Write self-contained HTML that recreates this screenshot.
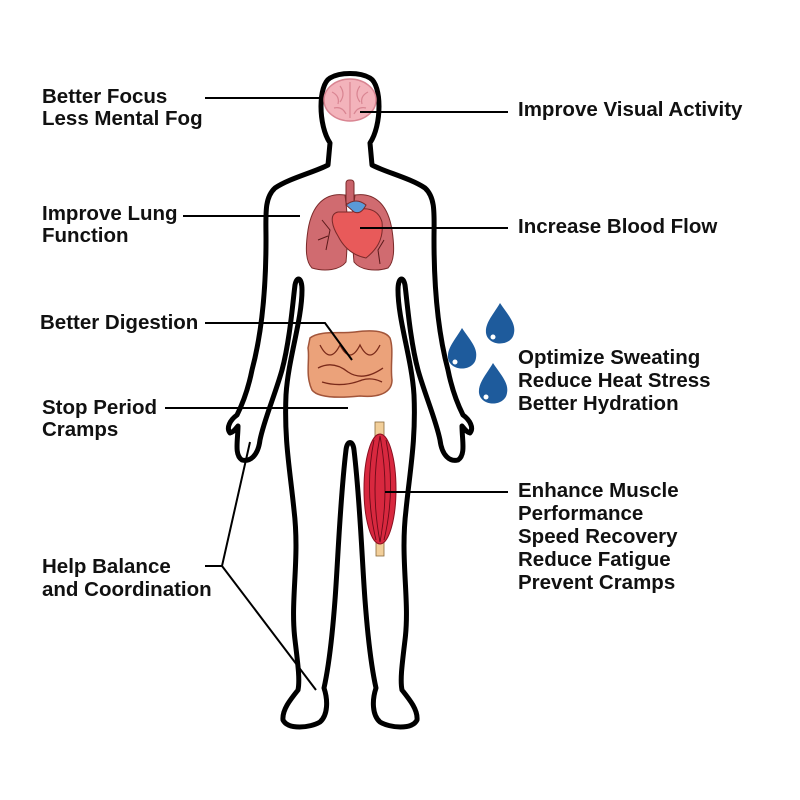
<!DOCTYPE html>
<html><head><meta charset="utf-8"><style>
html,body{margin:0;padding:0;background:#fff;}
svg{display:block}
text{font-family:"Liberation Sans",sans-serif;font-weight:bold;font-size:20.5px;fill:#111;}
</style></head><body>
<svg width="800" height="800" viewBox="0 0 800 800" xmlns="http://www.w3.org/2000/svg">
<g fill="none" stroke="#000" stroke-width="5" stroke-linejoin="round" stroke-linecap="round">
<path d="M330,143 C318,125 318,85 330,78 C340,72 360,72 370,78 C382,85 382,125 370,143 L372,165 C385,172 410,178 425,188 C436,198 434,215 434,240 C434,300 440,340 448,370 C452,390 458,405 463,415 C470,420 474,428 470,433 C466,432 464,428 462,426 C462,440 466,455 458,460 C450,462 442,456 440,440 C436,420 425,395 418,370 C410,340 407,300 405,285 C403,275 398,278 398,290 C398,320 412,360 414,395 C416,440 410,470 406,510 C400,560 410,600 405,640 C402,665 400,680 402,690 C410,700 418,710 417,720 C412,730 390,728 380,722 C372,715 372,700 376,688 C372,670 368,640 365,600 C362,560 360,500 354,450 C353,440 347,440 346,450 C340,500 338,560 335,600 C332,640 328,670 324,688 C328,700 328,715 320,722 C310,728 288,730 283,720 C282,710 290,700 298,690 C300,680 298,665 295,640 C290,600 300,560 294,510 C290,470 284,440 286,395 C288,360 302,320 302,290 C302,278 297,275 295,285 C293,300 290,340 282,370 C275,395 264,420 260,440 C258,456 250,462 242,460 C234,455 238,440 238,426 C236,428 234,432 230,433 C226,428 230,420 237,415 C242,405 248,390 252,370 C260,340 266,300 266,240 C266,215 264,198 275,188 C290,178 315,172 328,165 Z"/>
</g>
<g>
<ellipse cx="350" cy="100" rx="26" ry="21" fill="#f3b3bb" stroke="#d98592" stroke-width="1.5"/>
<path d="M350,82 L350,118 M332,92 q8,4 6,12 M340,86 q6,8 0,16 M360,86 q-6,8 0,16 M368,92 q-8,4 -6,12 M334,108 q8,-2 12,6 M366,108 q-8,-2 -12,6" stroke="#d98592" stroke-width="1.2" fill="none"/>
</g>
<g stroke="#7a2a2a" stroke-width="1">
<rect x="346" y="180" width="8" height="25" rx="3" fill="#c8626a"/>
<path d="M345,195 C325,192 312,205 308,230 C305,250 306,262 312,268 C325,272 340,270 346,262 C348,240 348,215 345,195 Z" fill="#d06b70"/>
<path d="M355,195 C375,192 388,205 392,230 C395,250 394,262 388,268 C375,272 360,270 354,262 C352,240 352,215 355,195 Z" fill="#d06b70"/>
<path d="M338,212 C328,214 333,228 338,236 C345,250 356,256 366,258 C376,250 384,240 382,222 C378,208 364,206 352,212 Z" fill="#e85a5a"/>
<path d="M346,205 q10,-8 20,0 q-5,10 -12,7 z" fill="#5a9ad8"/>
<path d="M322,220 l8,10 l-4,20 M318,240 l10,-4 M384,240 l-6,10 l2,14" fill="none" stroke="#5a1a1a"/>
</g>
<g>
<path d="M310,338 C320,330 340,334 355,332 C370,330 385,330 390,338 C394,350 390,365 392,380 C392,392 380,398 360,396 C340,398 318,398 312,390 C305,375 310,360 308,348 Z" fill="#eba27a" stroke="#a2553a" stroke-width="1.5"/>
<path d="M320,345 q10,20 20,0 q10,20 20,0 q10,20 20,0 M318,368 q15,-8 30,4 q15,10 35,-4 M322,382 q20,6 40,-2 q10,-3 20,2" fill="none" stroke="#7a2a1a" stroke-width="1.3"/>
</g>
<g>
<rect x="375" y="422" width="9" height="16" fill="#f2cf9a" stroke="#8a6a3a" stroke-width="0.8"/>
<rect x="376" y="540" width="8" height="16" fill="#f2cf9a" stroke="#8a6a3a" stroke-width="0.8"/>
<ellipse cx="380" cy="489" rx="16" ry="55" fill="#d8283f" stroke="#8a1020" stroke-width="1"/>
<path d="M380,436 q-10,53 0,106 M380,436 q10,53 0,106 M374,440 q-10,50 2,100 M386,440 q10,50 -2,100" fill="none" stroke="#6a0a18" stroke-width="0.9"/>
</g>
<g fill="#1e5b9c">
<path d="M462,328 C470,340 478,348 476,358 C474,372 450,372 448,358 C447,348 455,340 462,328 Z"/>
<path d="M500,303 C508,315 516,323 514,333 C512,347 488,347 486,333 C485,323 493,315 500,303 Z"/>
<path d="M493,363 C501,375 509,383 507,393 C505,407 481,407 479,393 C478,383 486,375 493,363 Z"/>
</g>
<g fill="#fff"><circle cx="455" cy="362" r="2.5"/><circle cx="493" cy="337" r="2.5"/><circle cx="486" cy="397" r="2.5"/></g>
<g stroke="#000" stroke-width="2" fill="none">
<path d="M205,98 L322,98"/>
<path d="M360,112 L508,112"/>
<path d="M183,216 L300,216"/>
<path d="M360,228 L508,228"/>
<path d="M205,323 L325,323 L352,360"/>
<path d="M165,408 L348,408"/>
<path d="M385,492 L508,492"/>
<path d="M205,566 L222,566 L250,442 M222,566 L316,690"/>
</g>
<text x="42" y="103">Better Focus</text>
<text x="42" y="125">Less Mental Fog</text>
<text x="42" y="220">Improve Lung</text>
<text x="42" y="242">Function</text>
<text x="40" y="329">Better Digestion</text>
<text x="42" y="414">Stop Period</text>
<text x="42" y="436">Cramps</text>
<text x="42" y="573">Help Balance</text>
<text x="42" y="596">and Coordination</text>
<text x="518" y="116">Improve Visual Activity</text>
<text x="518" y="233">Increase Blood Flow</text>
<text x="518" y="364">Optimize Sweating</text>
<text x="518" y="387">Reduce Heat Stress</text>
<text x="518" y="410">Better Hydration</text>
<text x="518" y="497">Enhance Muscle</text>
<text x="518" y="520">Performance</text>
<text x="518" y="543">Speed Recovery</text>
<text x="518" y="566">Reduce Fatigue</text>
<text x="518" y="589">Prevent Cramps</text>
</svg>
</body></html>
